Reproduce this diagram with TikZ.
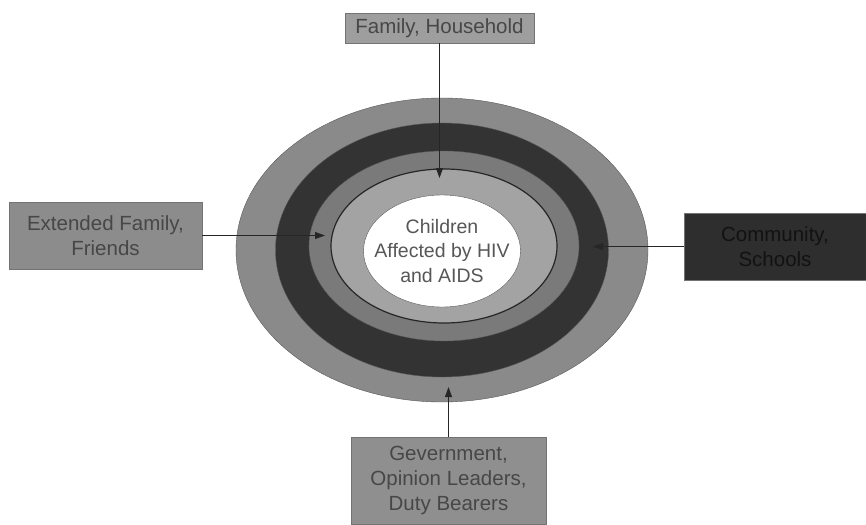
\documentclass[tikz,border=0pt]{standalone}
\usepackage{fontspec}
\setmainfont{Liberation Sans}
\usetikzlibrary{arrows.meta,positioning,shapes.geometric}

\begin{document}
\begin{tikzpicture}[
  x=1pt, y=-1pt,
  ring/.style={ellipse, draw=black!65, inner sep=0pt},
  box/.style={draw=black!55, align=center, inner sep=0pt, text=black!72,
              font=\fontsize{20.5}{25}\selectfont},
  arr/.style={-{Triangle[length=10pt, width=7pt]}, line width=0.9pt, draw=black!85}
]
\useasboundingbox (0,0) rectangle (866,524);
% rings, outside in
\node[ring, fill=black!46, minimum width=412pt, minimum height=304pt] (outer) at (442,250) {};
\node[ring, fill=black!80, minimum width=333pt, minimum height=254pt] (dark) at (442,250) {};
\node[ring, fill=black!52, minimum width=270pt, minimum height=190pt] (mid) at (444,246) {};
\node[ring, fill=black!36, draw=black!85, line width=1.2pt,
      minimum width=226pt, minimum height=154pt] (inner) at (444,246) {};
\node[ring, fill=white, minimum width=157pt, minimum height=112pt] (core) at (442,251) {};
\node[align=center, text=black!66, font=\fontsize{19.5}{24.5}\selectfont] (kids) at (core)
  {Children\\Affected by HIV\\and AIDS};

% outside boxes
\node[box, fill=black!38, minimum width=189pt, minimum height=30pt] (family) at (439.5,28) {Family, Household};
\node[box, fill=black!45, minimum width=193pt, minimum height=67pt] (extended) at (105.5,235.5) {Extended Family,\\Friends};
\node[box, fill=black!82, text=black!93, minimum width=182pt, minimum height=67pt] (community) at (775,246.5) {Community,\\Schools};
\node[box, fill=black!44, minimum width=195pt, minimum height=87pt] (govt) at (448.5,480.5) {Gevernment,\\Opinion Leaders,\\Duty Bearers};

% arrow tips inside the rings
\coordinate (tipT) at (439.5,178);
\coordinate (tipL) at (325,235.5);
\coordinate (tipR) at (593,246.5);
\coordinate (tipB) at (448.5,387);
\draw[arr] (family.south) -- (tipT); \draw[arr] (extended.east) -- (tipL);
\draw[arr] (community.west) -- (tipR); \draw[arr] (govt.north) -- (tipB);
\end{tikzpicture}
\end{document}
